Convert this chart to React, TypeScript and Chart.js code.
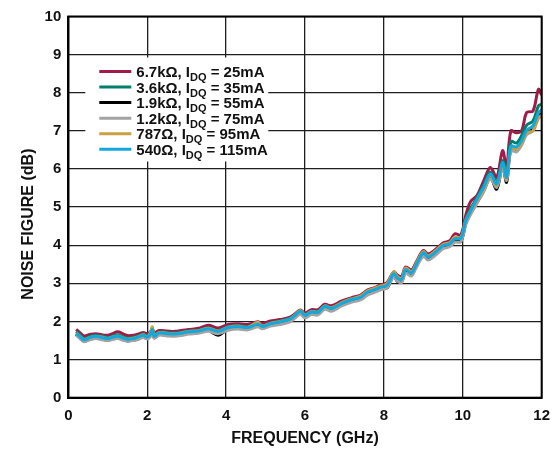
import React, { useEffect, useRef } from "react";
import { Chart, registerables } from "chart.js";

Chart.register(...registerables);

// Frequency sweep points (GHz)
const freqGHz = [
  0.2, 0.3, 0.4, 0.55, 0.7, 0.85, 1.0, 1.1, 1.25, 1.4,
  1.5, 1.65, 1.8, 1.9, 2.0, 2.08, 2.13, 2.18, 2.3, 2.5,
  2.7, 2.9, 3.05, 3.3, 3.55, 3.8, 4.05, 4.3, 4.55, 4.8,
  4.92, 5.12, 5.37, 5.62, 5.75, 5.88, 6.0, 6.16, 6.33, 6.5,
  6.67, 6.92, 7.17, 7.42, 7.58, 7.75, 7.92, 8.08, 8.25, 8.34,
  8.45, 8.55, 8.7, 8.8, 9.0, 9.12, 9.32, 9.5, 9.67, 9.8,
  9.95, 10.08, 10.2, 10.36, 10.53, 10.7, 10.86, 11.01, 11.11, 11.22,
  11.36, 11.49, 11.62, 11.78, 11.92, 12.0,
];

// Noise figure (dB) for each bias resistor setting
const nf6k7 = [
  1.79, 1.70, 1.62, 1.66, 1.68, 1.65, 1.64, 1.67, 1.73, 1.67,
  1.63, 1.64, 1.68, 1.71, 1.68, 1.72, 1.80, 1.71, 1.76, 1.75,
  1.74, 1.77, 1.79, 1.82, 1.90, 1.83, 1.92, 1.94, 1.92, 1.99,
  1.95, 2.01, 2.05, 2.11, 2.20, 2.30, 2.22, 2.31, 2.31, 2.45,
  2.41, 2.53, 2.62, 2.70, 2.82, 2.88, 2.96, 3.02, 3.30, 3.22,
  3.18, 3.43, 3.35, 3.52, 3.86, 3.77, 3.90, 4.06, 4.12, 4.30,
  4.27, 4.80, 5.15, 5.30, 5.69, 6.04, 5.78, 6.48, 6.04, 7.00,
  6.95, 7.00, 7.48, 7.52, 8.09, 7.94,
];
const nf3k6 = [
  1.74, 1.64, 1.55, 1.61, 1.64, 1.61, 1.58, 1.61, 1.65, 1.59,
  1.56, 1.58, 1.63, 1.67, 1.62, 1.69, 1.80, 1.64, 1.72, 1.71,
  1.70, 1.72, 1.75, 1.77, 1.83, 1.76, 1.86, 1.89, 1.86, 1.95,
  1.89, 1.96, 2.01, 2.08, 2.18, 2.28, 2.18, 2.27, 2.26, 2.41,
  2.36, 2.49, 2.59, 2.66, 2.79, 2.85, 2.92, 2.97, 3.27, 3.16,
  3.12, 3.38, 3.29, 3.47, 3.82, 3.71, 3.85, 4.01, 4.06, 4.20,
  4.21, 4.70, 4.96, 5.25, 5.58, 5.92, 5.65, 6.22, 5.84, 6.72,
  6.68, 6.87, 7.15, 7.26, 7.66, 7.70,
];
const nf1k9 = [
  1.66, 1.56, 1.48, 1.54, 1.57, 1.54, 1.51, 1.54, 1.57, 1.52,
  1.49, 1.51, 1.56, 1.60, 1.55, 1.62, 1.72, 1.57, 1.66, 1.64,
  1.63, 1.66, 1.69, 1.71, 1.76, 1.64, 1.80, 1.83, 1.80, 1.89,
  1.83, 1.90, 1.95, 2.02, 2.12, 2.23, 2.12, 2.21, 2.20, 2.36,
  2.30, 2.43, 2.53, 2.60, 2.72, 2.78, 2.86, 2.88, 3.20, 3.05,
  3.04, 3.31, 3.22, 3.40, 3.75, 3.63, 3.78, 3.94, 3.99, 4.12,
  4.10, 4.58, 4.84, 5.12, 5.42, 5.78, 5.47, 6.08, 5.65, 6.52,
  6.50, 6.66, 6.95, 7.05, 7.40, 7.45,
];
const nf1k2 = [
  1.64, 1.55, 1.47, 1.52, 1.55, 1.52, 1.50, 1.52, 1.55, 1.50,
  1.48, 1.50, 1.54, 1.58, 1.54, 1.60, 1.70, 1.56, 1.64, 1.62,
  1.61, 1.64, 1.67, 1.69, 1.74, 1.68, 1.77, 1.80, 1.78, 1.86,
  1.81, 1.88, 1.92, 1.99, 2.09, 2.19, 2.09, 2.18, 2.17, 2.32,
  2.27, 2.40, 2.50, 2.57, 2.69, 2.76, 2.83, 2.88, 3.17, 3.06,
  3.02, 3.27, 3.19, 3.37, 3.71, 3.61, 3.75, 3.91, 3.96, 4.08,
  4.09, 4.55, 4.81, 5.10, 5.41, 5.74, 5.52, 6.03, 5.70, 6.47,
  6.45, 6.62, 6.90, 7.00, 7.35, 7.40,
];
const nf787 = [
  1.70, 1.61, 1.53, 1.58, 1.61, 1.59, 1.56, 1.59, 1.62, 1.57,
  1.54, 1.56, 1.61, 1.65, 1.60, 1.70, 1.86, 1.63, 1.71, 1.69,
  1.68, 1.71, 1.74, 1.76, 1.82, 1.75, 1.85, 1.88, 1.85, 1.98,
  1.88, 1.95, 2.00, 2.07, 2.17, 2.29, 2.17, 2.26, 2.25, 2.41,
  2.36, 2.49, 2.59, 2.67, 2.80, 2.86, 2.93, 2.99, 3.30, 3.18,
  3.13, 3.40, 3.30, 3.48, 3.83, 3.72, 3.86, 4.02, 4.07, 4.22,
  4.20, 4.66, 4.90, 5.18, 5.48, 5.83, 5.58, 6.12, 5.74, 6.55,
  6.52, 6.67, 6.95, 7.00, 7.33, 7.38,
];
const nf540 = [
  1.69, 1.60, 1.52, 1.58, 1.61, 1.58, 1.55, 1.58, 1.61, 1.56,
  1.53, 1.55, 1.60, 1.64, 1.59, 1.66, 1.79, 1.61, 1.70, 1.68,
  1.67, 1.70, 1.73, 1.75, 1.81, 1.74, 1.84, 1.87, 1.84, 1.93,
  1.87, 1.94, 1.99, 2.06, 2.16, 2.27, 2.16, 2.25, 2.24, 2.40,
  2.34, 2.47, 2.57, 2.64, 2.77, 2.83, 2.90, 2.95, 3.25, 3.14,
  3.10, 3.36, 3.27, 3.45, 3.80, 3.69, 3.83, 3.99, 4.04, 4.17,
  4.18, 4.65, 4.90, 5.21, 5.52, 5.87, 5.61, 6.17, 5.78, 6.60,
  6.58, 6.74, 7.02, 7.13, 7.48, 7.55,
];

// Legend text: resistor value, subscripted quiescent-current symbol, current
const legendMain = ["6.7kΩ, I", "3.6kΩ, I", "1.9kΩ, I", "1.2kΩ, I", "787Ω, I", "540Ω, I"];
const legendSub = "DQ";
const legendTail = [" = 25mA", " = 35mA", " = 55mA", " = 75mA", " = 95mA", " = 115mA"];

const seriesValues = [nf6k7, nf3k6, nf1k9, nf1k2, nf787, nf540];
const seriesColors = ["#a01c48", "#00806c", "#000000", "#a3a3a3", "#c9a044", "#13a8dc"];

const xTickValues = [0, 2, 4, 6, 8, 10, 12];
const yTickValues = [0, 1, 2, 3, 4, 5, 6, 7, 8, 9, 10];
const xTitle = "FREQUENCY (GHz)";
const yTitle = "NOISE FIGURE (dB)";

const FONT = "'Liberation Sans', Arial, Helvetica, sans-serif";

const frameAndLegend = {
  id: "frameAndLegend",
  afterDatasetsDraw(chart: any) {
    const { ctx, chartArea } = chart;
    ctx.save();
    // plot frame
    ctx.strokeStyle = "#000";
    ctx.lineWidth = 2;
    ctx.strokeRect(chartArea.left, chartArea.top, chartArea.right - chartArea.left, chartArea.bottom - chartArea.top);

    // legend panel
    const lx = chartArea.left + 17;
    const ly = chartArea.top + 41;
    ctx.fillStyle = "#fff";
    ctx.fillRect(lx, ly, 183, 104);
    const rowH = 15.55;
    legendMain.forEach((main, i) => {
      const y = ly + 14 + i * rowH;
      ctx.strokeStyle = seriesColors[i];
      ctx.lineWidth = 3;
      ctx.lineCap = "butt";
      ctx.beginPath();
      ctx.moveTo(lx + 14, y);
      ctx.lineTo(lx + 46, y);
      ctx.stroke();

      ctx.fillStyle = "#111";
      ctx.textBaseline = "alphabetic";
      ctx.textAlign = "left";
      let x = lx + 51;
      ctx.font = `bold 15px ${FONT}`;
      ctx.fillText(main, x, y + 5.5);
      x += ctx.measureText(main).width;
      ctx.font = `bold 11px ${FONT}`;
      ctx.fillText(legendSub, x, y + 9.5);
      x += ctx.measureText(legendSub).width;
      ctx.font = `bold 15px ${FONT}`;
      ctx.fillText(legendTail[i], x, y + 5.5);
    });

    // vertical axis title, set a little below the plot's mid-height
    ctx.translate(28.5, (chartArea.top + chartArea.bottom) / 2 + 17);
    ctx.rotate(-Math.PI / 2);
    ctx.font = `bold 16px ${FONT}`;
    ctx.fillStyle = "#111";
    ctx.textAlign = "center";
    ctx.textBaseline = "middle";
    ctx.fillText(yTitle, 0, 0);
    ctx.restore();
  },
};

export default function App() {
  const canvasRef = useRef<HTMLCanvasElement | null>(null);

  useEffect(() => {
    const canvas = canvasRef.current;
    if (!canvas) return;

    const datasets = seriesValues.map((vals, i) => ({
      label: legendMain[i] + legendSub + legendTail[i],
      data: freqGHz.map((f, k) => ({ x: f, y: vals[k] })),
      borderColor: seriesColors[i],
      backgroundColor: seriesColors[i],
      borderWidth: 3,
      pointRadius: 0,
      tension: 0.35,
      fill: false,
      // the 540Ω trace is drawn on top, the 6.7kΩ trace at the bottom
      order: 6 - i,
    }));

    const chart = new Chart(canvas, {
      type: "line",
      data: { datasets },
      options: {
        animation: false,
        responsive: false,
        maintainAspectRatio: false,
        devicePixelRatio: 1,
        layout: { padding: { top: 16.5, right: 10, bottom: 0, left: 0 } },
        plugins: {
          legend: { display: false },
          tooltip: { enabled: false },
        },
        scales: {
          x: {
            type: "linear",
            min: 0,
            max: 12,
            afterBuildTicks: (s: any) => {
              s.ticks = xTickValues.map((v) => ({ value: v }));
            },
            afterFit: (s: any) => {
              s.height = 52.3;
            },
            ticks: {
              color: "#111",
              font: { family: FONT, size: 15, weight: "bold" },
              padding: 9,
              maxRotation: 0,
            },
            grid: { color: "#1e1e1e", lineWidth: 1.3, drawTicks: false },
            border: { display: true, color: "#000", width: 2 },
            title: {
              display: true,
              text: xTitle,
              color: "#111",
              font: { family: FONT, size: 16, weight: "bold" },
              padding: { top: 0, bottom: 2 },
            },
          },
          y: {
            type: "linear",
            min: 0,
            max: 10,
            afterBuildTicks: (s: any) => {
              s.ticks = yTickValues.map((v) => ({ value: v }));
            },
            afterFit: (s: any) => {
              s.width = 68.3;
            },
            ticks: {
              color: "#111",
              font: { family: FONT, size: 15, weight: "bold" },
              padding: 7,
            },
            grid: { color: "#1e1e1e", lineWidth: 1.3, drawTicks: false },
            border: { display: true, color: "#000", width: 2 },
            title: { display: false },
          },
        },
      },
      plugins: [frameAndLegend],
    });

    return () => chart.destroy();
  }, []);

  return (
    <div style={{ position: "absolute", left: 0, top: 0, width: 559, height: 450, background: "#fff" }}>
      <canvas ref={canvasRef} width={559} height={450} style={{ width: 559, height: 450, display: "block" }} />
    </div>
  );
}
